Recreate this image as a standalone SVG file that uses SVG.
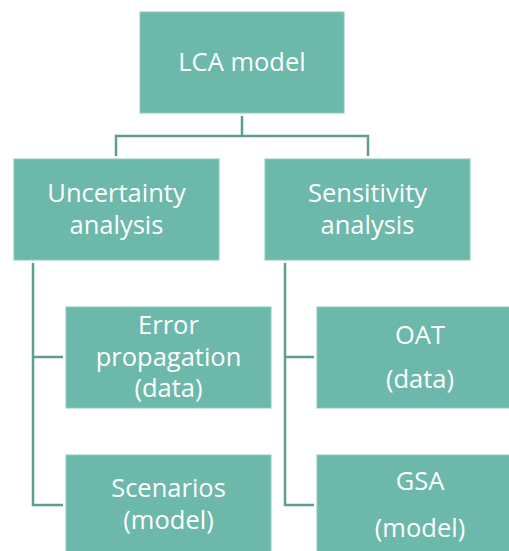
<svg xmlns="http://www.w3.org/2000/svg" width="509" height="551" viewBox="0 0 509 551">
<style>
.box{fill:#6CB8AA;stroke:#8CCABD;stroke-width:1}
.t{fill:#FFFFFF;font-family:"Open Sans","Noto Sans","Liberation Sans",sans-serif;font-size:25.5px;text-anchor:middle}
.c{fill:none;stroke:#5E9D91;stroke-width:2.5}
</style>
<rect width="509" height="551" fill="#FFFFFF"/>
<g id="connectors">
<path class="c" d="M242,116 V136 M116,156 V136 H368 V156"/>
<path class="c" d="M33,263 V505 H63 M33,357 H63"/>
<path class="c" d="M285,263 V505 H314 M285,357 H314"/>
</g>
<g id="lca">
<rect class="box" x="140" y="12" width="204" height="101"/>
<text class="t" x="242" y="71">LCA model</text>
</g>
<g id="uncertainty">
<rect class="box" x="14" y="159" width="205" height="101"/>
<text class="t" x="116.5" y="202">Uncertainty</text>
<text class="t" x="116.5" y="234">analysis</text>
</g>
<g id="sensitivity">
<rect class="box" x="265" y="159" width="205" height="101"/>
<text class="t" x="367.5" y="202">Sensitivity</text>
<text class="t" x="367.5" y="234">analysis</text>
</g>
<g id="error">
<rect class="box" x="66" y="307" width="205" height="101"/>
<text class="t" x="168.5" y="334">Error</text>
<text class="t" x="168.5" y="366">propagation</text>
<text class="t" x="168.5" y="397">(data)</text>
</g>
<g id="scenarios">
<rect class="box" x="66" y="455" width="205" height="101"/>
<text class="t" x="168.5" y="497">Scenarios</text>
<text class="t" x="168.5" y="529">(model)</text>
</g>
<g id="oat">
<rect class="box" x="317" y="307" width="205" height="101"/>
<text class="t" x="420" y="344">OAT</text>
<text class="t" x="420" y="388">(data)</text>
</g>
<g id="gsa">
<rect class="box" x="317" y="455" width="205" height="101"/>
<text class="t" x="420" y="490">GSA</text>
<text class="t" x="420" y="537">(model)</text>
</g>
</svg>
